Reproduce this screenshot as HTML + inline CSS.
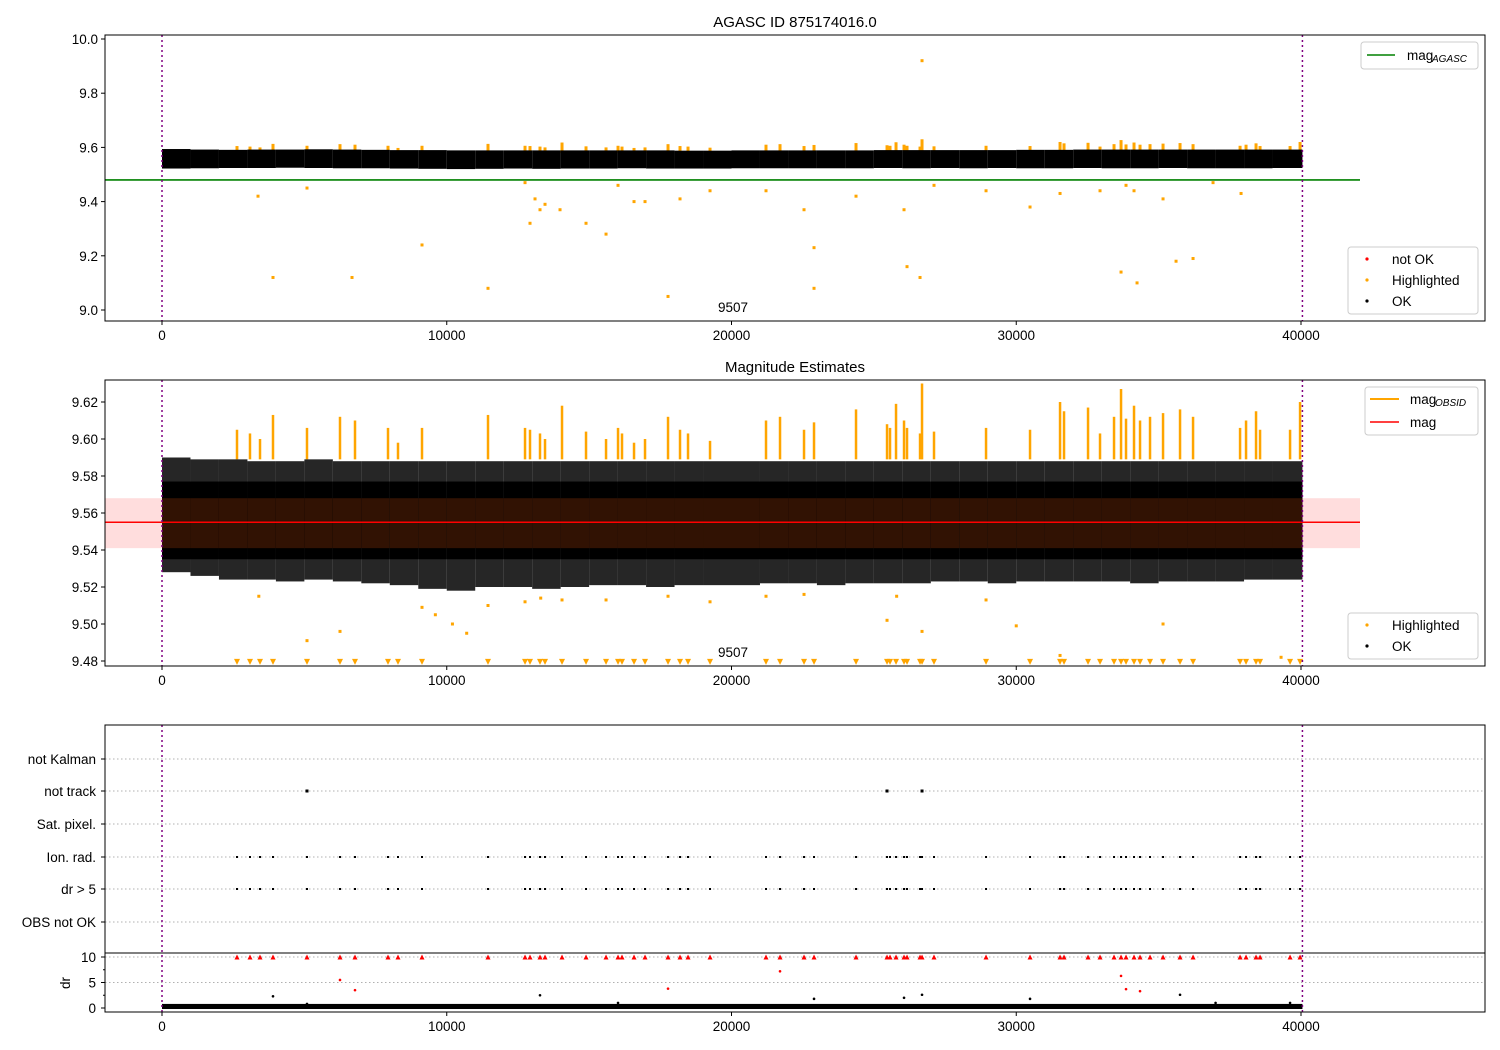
<!DOCTYPE html>
<html><head><meta charset="utf-8">
<style>
body{margin:0;background:#fff;}
svg{display:block;font-family:"Liberation Sans","DejaVu Sans",sans-serif;}
</style></head>
<body>
<svg id="fig" width="1500" height="1050" viewBox="0 0 1500 1050" xmlns="http://www.w3.org/2000/svg"></svg>
<script>
// ---- data ----
const eventTimes=[2634,3090,3442,3898,5092,6251,6778,7937,8288,9131,11449,12749,12924,13275,13451,14048,14891,15594,16015,16155,16577,16963,17771,18192,18473,19246,21212,21704,22547,22898,24373,25462,25567,25778,26059,26164,26621,26691,27112,28939,30484,31538,31678,32521,32942,33434,33680,33855,34136,34347,34698,35155,35752,36209,37860,38070,38421,38562,39616,39967];
const p2Peaks=[9.605,9.603,9.600,9.613,9.606,9.612,9.610,9.606,9.598,9.606,9.613,9.606,9.605,9.603,9.600,9.618,9.604,9.600,9.606,9.603,9.598,9.600,9.612,9.605,9.603,9.599,9.610,9.612,9.605,9.609,9.616,9.608,9.606,9.619,9.610,9.606,9.603,9.630,9.604,9.606,9.605,9.620,9.615,9.617,9.603,9.612,9.627,9.611,9.618,9.610,9.612,9.614,9.616,9.612,9.606,9.610,9.615,9.605,9.605,9.620];
const p1OutT=[3372,3898,5092,6673,9131,11449,12749,12924,13100,13275,13451,13978,14891,15594,16015,16577,16963,17771,18192,19246,21212,22547,22898,22898,24373,26059,26164,26621,26691,27112,28939,30484,31538,32942,33680,33855,34136,34242,35155,35612,36209,36911,37895];
const p1OutV=[9.42,9.12,9.45,9.12,9.24,9.08,9.47,9.32,9.41,9.37,9.39,9.37,9.32,9.28,9.46,9.40,9.40,9.05,9.41,9.44,9.44,9.37,9.23,9.08,9.42,9.37,9.16,9.12,9.92,9.46,9.44,9.38,9.43,9.44,9.14,9.46,9.44,9.10,9.41,9.18,9.19,9.47,9.43];
const p2LowT=[3400,5092,6251,9131,9600,10200,10700,11449,12749,13300,14048,15594,17771,19246,21212,22547,25462,25800,26691,28939,30000,31538,35155,39300];
const p2LowV=[9.515,9.491,9.496,9.509,9.505,9.500,9.495,9.510,9.512,9.514,9.513,9.513,9.515,9.512,9.515,9.516,9.502,9.515,9.496,9.513,9.499,9.483,9.500,9.482];
const binLo1=[9.522,9.523,9.524,9.524,9.525,9.524,9.523,9.523,9.522,9.521,9.520,9.521,9.522,9.521,9.522,9.522,9.523,9.522,9.522,9.522,9.523,9.523,9.523,9.523,9.523,9.524,9.523,9.524,9.523,9.524,9.523,9.523,9.524,9.523,9.523,9.524,9.523,9.523,9.523,9.524,9.524];
const binHi1=[9.594,9.592,9.591,9.592,9.592,9.593,9.592,9.591,9.590,9.590,9.589,9.589,9.589,9.589,9.589,9.589,9.589,9.589,9.588,9.588,9.589,9.589,9.589,9.589,9.589,9.590,9.590,9.590,9.590,9.590,9.591,9.591,9.592,9.592,9.592,9.592,9.592,9.592,9.592,9.592,9.592];
const binLo2=[9.528,9.526,9.524,9.524,9.523,9.524,9.523,9.522,9.521,9.519,9.518,9.520,9.520,9.519,9.520,9.521,9.521,9.520,9.521,9.521,9.521,9.522,9.522,9.521,9.522,9.522,9.522,9.523,9.523,9.522,9.523,9.523,9.523,9.523,9.522,9.523,9.523,9.523,9.524,9.524,9.524];
const binHi2=[9.590,9.589,9.589,9.588,9.588,9.589,9.588,9.588,9.588,9.588,9.588,9.588,9.588,9.588,9.588,9.588,9.588,9.588,9.588,9.588,9.588,9.588,9.588,9.588,9.588,9.588,9.588,9.588,9.588,9.588,9.588,9.588,9.588,9.588,9.588,9.588,9.588,9.588,9.588,9.588,9.588];
const notTrackT=[5092,25462,26691];
const drRedT=[6251,6778,17771,21704,33680,33855,34347];
const drRedV=[5.5,3.5,3.8,7.2,6.3,3.7,3.3];
const drBlackT=[3898,5092,13275,16015,22898,26059,26691,30484,35752,37000,39616];
const drBlackV=[2.3,0.8,2.5,1.0,1.8,2.0,2.6,1.8,2.6,1.0,1.0];
const cats=["not Kalman","not track","Sat. pixel.","Ion. rad.","dr > 5","OBS not OK"];
const xTicks=[0,10000,20000,30000,40000];
const y1Ticks=[9.0,9.2,9.4,9.6,9.8,10.0];
const y2Ticks=[9.48,9.50,9.52,9.54,9.56,9.58,9.60,9.62];
const drTicks=[0,5,10];
const magAgasc=9.48, magMean=9.555, magLo=9.541, magHi=9.568, tStart=0, tEnd=40050;

// ---- helpers ----
const S=document.getElementById('fig'),NS='http://www.w3.org/2000/svg';
function el(tag,a,parent){const e=document.createElementNS(NS,tag);for(const k in a)e.setAttribute(k,a[k]);(parent||S).appendChild(e);return e;}
const L=105,R=1485;
const X=t=>162+(t-0)*(1301-162)/40000;
const Y1=v=>39+(10.0-v)*271;
const Y2=v=>402+(9.62-v)*1850;
const catY=[759,791,824,857,889,922];
const YD=v=>1008-v*5.1;
function txt(x,y,s,a,name){const t=el('text',Object.assign({x:x,y:y,'font-size':13.5,fill:'#000'},a||{}));t.textContent=s;return t;}
function xAxis(yb,g){xTicks.forEach(v=>{el('line',{x1:X(v),x2:X(v),y1:yb,y2:yb+4,stroke:'#000'},g);txt(X(v),yb+19,String(v),{'text-anchor':'middle'},'x-tick-label');});}

// ================= Panel 1 =================
const g1=el('g',{});
txt(795,27,'AGASC ID 875174016.0',{'text-anchor':'middle','font-size':15},'title-agasc');
eventTimes.forEach((t,i)=>{const l=el('line',{x1:X(t),x2:X(t),y1:Y1(9.58),y2:Y1(p2Peaks[i]),stroke:'orange','stroke-width':3},g1);});
for(let i=0;i<binLo1.length;i++){const r=el('rect',{x:X(i*1000),y:Y1(binHi1[i]),width:Math.min(X((i+1)*1000),X(40050))-X(i*1000),height:Y1(binLo1[i])-Y1(binHi1[i]),fill:'#000'},g1);}
p1OutT.forEach((t,i)=>{const c=el('rect',{x:X(t)-1.5,y:Y1(p1OutV[i])-1.5,width:3,height:3,fill:'orange'},g1);});
el('line',{x1:105,x2:1360,y1:Y1(magAgasc),y2:Y1(magAgasc),stroke:'green','stroke-width':1.6},g1);
[tStart,tEnd].forEach(t=>el('line',{x1:X(t),x2:X(t),y1:35,y2:321,stroke:'purple','stroke-width':1.5,'stroke-dasharray':'2,3'},g1));
el('rect',{x:L,y:35,width:R-L,height:286,fill:'none',stroke:'#000'},g1);
y1Ticks.forEach(v=>{el('line',{x1:L,x2:L-4,y1:Y1(v),y2:Y1(v),stroke:'#000'},g1);txt(L-7,Y1(v)+5,v.toFixed(1),{'text-anchor':'end'},'y-tick-label');});
xAxis(321,g1);
txt(733,312,'9507',{'text-anchor':'middle'},'count-label');
let lg=el('g',{},g1);
el('rect',{x:1361,y:42,width:117,height:27,rx:3,fill:'#fff',stroke:'#ccc'},lg);
el('line',{x1:1367,x2:1395,y1:55,y2:55,stroke:'green','stroke-width':1.6},lg);
txt(1407,60,'mag',{},'legend-label');txt(1432,62,'AGASC',{'font-size':10,'font-style':'italic'},'legend-sub');
lg=el('g',{},g1);
el('rect',{x:1348,y:247,width:130,height:67,rx:3,fill:'#fff',stroke:'#ccc'},lg);
[['red','not OK',259],['orange','Highlighted',280],['#000','OK',301]].forEach(a=>{el('circle',{cx:1367,cy:a[2],r:1.6,fill:a[0]},lg);txt(1392,a[2]+5,a[1],{},'legend-entry');});

// ================= Panel 2 =================
const g2=el('g',{});
txt(795,372,'Magnitude Estimates',{'text-anchor':'middle','font-size':15},'title-magnitude');
el('rect',{x:105,y:Y2(magHi),width:1255,height:Y2(magLo)-Y2(magHi),fill:'#ffdddd'},g2);
eventTimes.forEach((t,i)=>{const l=el('line',{x1:X(t),x2:X(t),y1:Y2(9.589),y2:Y2(p2Peaks[i]),stroke:'orange','stroke-width':2.5},g2);});
for(let i=0;i<binLo2.length;i++){const x0=X(i*1000),w=Math.min(X((i+1)*1000),X(40050))-x0;
 const a=el('rect',{x:x0,y:Y2(binHi2[i]),width:w,height:Y2(binLo2[i])-Y2(binHi2[i]),fill:'#000','fill-opacity':0.85},g2);
 el('rect',{x:x0,y:Y2(9.577),width:w,height:Y2(9.535)-Y2(9.577),fill:'#000'},g2);
 el('rect',{x:x0,y:Y2(magHi),width:w,height:Y2(magLo)-Y2(magHi),fill:'#311203'},g2);}
eventTimes.forEach(t=>{const tr=el('path',{d:`M${X(t)-3},${Y2(9.4795)-3}L${X(t)+3},${Y2(9.4795)-3}L${X(t)},${Y2(9.4795)+3}Z`,fill:'orange'},g2);});
p2LowT.forEach((t,i)=>{const c=el('rect',{x:X(t)-1.5,y:Y2(p2LowV[i])-1.5,width:3,height:3,fill:'orange'},g2);});
el('line',{x1:105,x2:1360,y1:Y2(magMean),y2:Y2(magMean),stroke:'red','stroke-width':1.6},g2);
[tStart,tEnd].forEach(t=>el('line',{x1:X(t),x2:X(t),y1:380,y2:666,stroke:'purple','stroke-width':1.5,'stroke-dasharray':'2,3'},g2));
el('rect',{x:L,y:380,width:R-L,height:286,fill:'none',stroke:'#000'},g2);
y2Ticks.forEach(v=>{el('line',{x1:L,x2:L-4,y1:Y2(v),y2:Y2(v),stroke:'#000'},g2);txt(L-7,Y2(v)+5,v.toFixed(2),{'text-anchor':'end'},'y-tick-label');});
xAxis(666,g2);
txt(733,657,'9507',{'text-anchor':'middle'},'count-label');
lg=el('g',{},g2);
el('rect',{x:1365,y:387,width:113,height:48,rx:3,fill:'#fff',stroke:'#ccc'},lg);
el('line',{x1:1370,x2:1399,y1:399,y2:399,stroke:'orange','stroke-width':2},lg);
txt(1410,404,'mag',{},'legend-label');txt(1435,406,'OBSID',{'font-size':10,'font-style':'italic'},'legend-sub');
el('line',{x1:1370,x2:1399,y1:422,y2:422,stroke:'red','stroke-width':1.6},lg);
txt(1410,427,'mag',{},'legend-label');
lg=el('g',{},g2);
el('rect',{x:1348,y:613,width:130,height:46,rx:3,fill:'#fff',stroke:'#ccc'},lg);
[['orange','Highlighted',625],['#000','OK',646]].forEach(a=>{el('circle',{cx:1367,cy:a[2],r:1.6,fill:a[0]},lg);txt(1392,a[2]+5,a[1],{},'legend-entry');});

// ================= Panel 3 =================
const g3=el('g',{});
cats.forEach((c,i)=>{el('line',{x1:L,x2:R,y1:catY[i],y2:catY[i],stroke:'#b0b0b0','stroke-dasharray':'1.5,2.5'},g3);el('line',{x1:L,x2:L-4,y1:catY[i],y2:catY[i],stroke:'#000'},g3);txt(L-9,catY[i]+5,c,{'text-anchor':'end'},'category-label');});
eventTimes.forEach(t=>{[3,4].forEach(k=>{const r=el('rect',{x:X(t)-1,y:catY[k]-1,width:2,height:2,fill:'#000'},g3);});});
notTrackT.forEach(t=>{const r=el('rect',{x:X(t)-1.5,y:catY[1]-1.5,width:3,height:3,fill:'#000'},g3);});
[5,10].forEach(v=>el('line',{x1:L,x2:R,y1:YD(v),y2:YD(v),stroke:'#b0b0b0','stroke-dasharray':'1.5,2.5'},g3));
el('rect',{x:X(0),y:YD(0.8),width:X(40050)-X(0),height:YD(-0.2)-YD(0.8),fill:'#000'},g3);
drBlackT.forEach((t,i)=>{const c=el('circle',{cx:X(t),cy:YD(drBlackV[i]),r:1.3,fill:'#000'},g3);});
drRedT.forEach((t,i)=>{const c=el('circle',{cx:X(t),cy:YD(drRedV[i]),r:1.3,fill:'red'},g3);});
eventTimes.forEach(t=>{const tr=el('path',{d:`M${X(t)-2.5},${YD(10)+2.5}L${X(t)+2.5},${YD(10)+2.5}L${X(t)},${YD(10)-2.5}Z`,fill:'red'},g3);});
[tStart,tEnd].forEach(t=>el('line',{x1:X(t),x2:X(t),y1:725,y2:1012,stroke:'purple','stroke-width':1.5,'stroke-dasharray':'2,3'},g3));
el('rect',{x:L,y:725,width:R-L,height:287,fill:'none',stroke:'#000'},g3);
el('line',{x1:L,x2:R,y1:953,y2:953,stroke:'#000'},g3);
drTicks.forEach(v=>{el('line',{x1:L,x2:L-4,y1:YD(v),y2:YD(v),stroke:'#000'},g3);txt(L-9,YD(v)+5,String(v),{'text-anchor':'end'},'dr-tick-label');});
[2.5,7.5].forEach(v=>el('line',{x1:L,x2:L-2,y1:YD(v),y2:YD(v),stroke:'#000'},g3));
txt(0,0,'dr',{transform:'translate(70,983) rotate(-90)','text-anchor':'middle'},'dr-axis-title');
xAxis(1012,g3);
</script>
</body></html>
